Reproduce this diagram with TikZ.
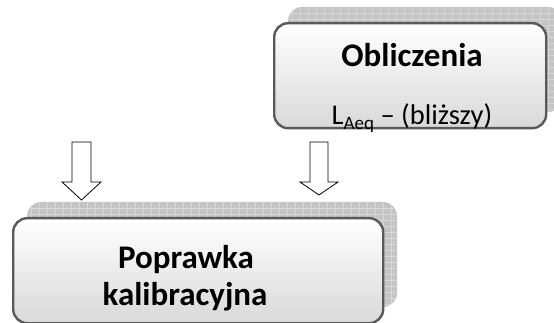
\documentclass[tikz,border=0pt]{standalone}
\usepackage{fontspec}
\setmainfont{Carlito}
\definecolor{shadowgray}{HTML}{C4C4C4}
\definecolor{gridgray}{HTML}{D6D6D6}
\definecolor{edgegray}{HTML}{595959}
\definecolor{boxbottom}{HTML}{D9D9D9}
\tikzset{
  backbox/.style={fill=shadowgray, rounded corners=14pt},
  frontbox/.style={draw=edgegray, line width=2.4pt, rounded corners=14pt, top color=white, bottom color=boxbottom},
  blockarrow/.style={draw=black, line width=0.8pt, fill=white, line join=miter},
  headtext/.style={font=\fontsize{33}{39}\selectfont\bfseries, anchor=base, inner sep=0pt},
  bodytext/.style={font=\fontsize{28.5}{34}\selectfont, anchor=base, inner sep=0pt},
}
\begin{document}
\begin{tikzpicture}[x=1pt,y=-1pt]
\useasboundingbox (0,0) rectangle (554,323);
\begin{scope}
\clip (0,0) rectangle (554,323);
% top box shadow
\path[backbox] (288,7) rectangle (562,112);
\begin{scope}
\clip[rounded corners=14pt] (288,7) rectangle (562,112);
\foreach \yy in {13,19,...,112} \draw[gridgray, line width=0.6pt] (288,\yy) -- (562,\yy);
\foreach \xx in {292,300,...,562} \draw[gridgray, line width=0.6pt] (\xx,7) -- (\xx,112);
\end{scope}
% bottom box shadow
\path[backbox] (27,202) rectangle (397,307);
\begin{scope}
\clip[rounded corners=14pt] (27,202) rectangle (397,307);
\foreach \yy in {208,214,...,307} \draw[gridgray, line width=0.6pt] (27,\yy) -- (397,\yy);
\foreach \xx in {31,39,...,397} \draw[gridgray, line width=0.6pt] (\xx,202) -- (\xx,307);
\end{scope}
% front boxes
\node[frontbox, minimum width=272pt, minimum height=105pt, anchor=north west, inner sep=0pt] (obl) at (273,22) {};
\node[frontbox, minimum width=370pt, minimum height=105pt, anchor=north west, inner sep=0pt] (pop) at (12,217) {};
% texts
\node[headtext] (t1) at (412,67) {Obliczenia};
\node[bodytext] (t2) at (412,125) {L\raisebox{-0.16em}{\fontsize{19}{22}\selectfont Aeq} – (bliższy)};
\node[headtext] (t3) at (186,268) {Poprawka};
\begin{scope}
\clip (0,0) rectangle (554,311);
\node[headtext] (t4) at (185,305) {kalibracyjna};
\end{scope}
% block arrows
\draw[blockarrow] (72,142) -- (91,142) -- (91,182) -- (101,182) -- (81.5,200) -- (62,182) -- (72,182) -- cycle;
\draw[blockarrow] (310,142) -- (328,142) -- (328,182) -- (338,182) -- (319,195) -- (300,182) -- (310,182) -- cycle;
\end{scope}
\end{tikzpicture}
\end{document}
